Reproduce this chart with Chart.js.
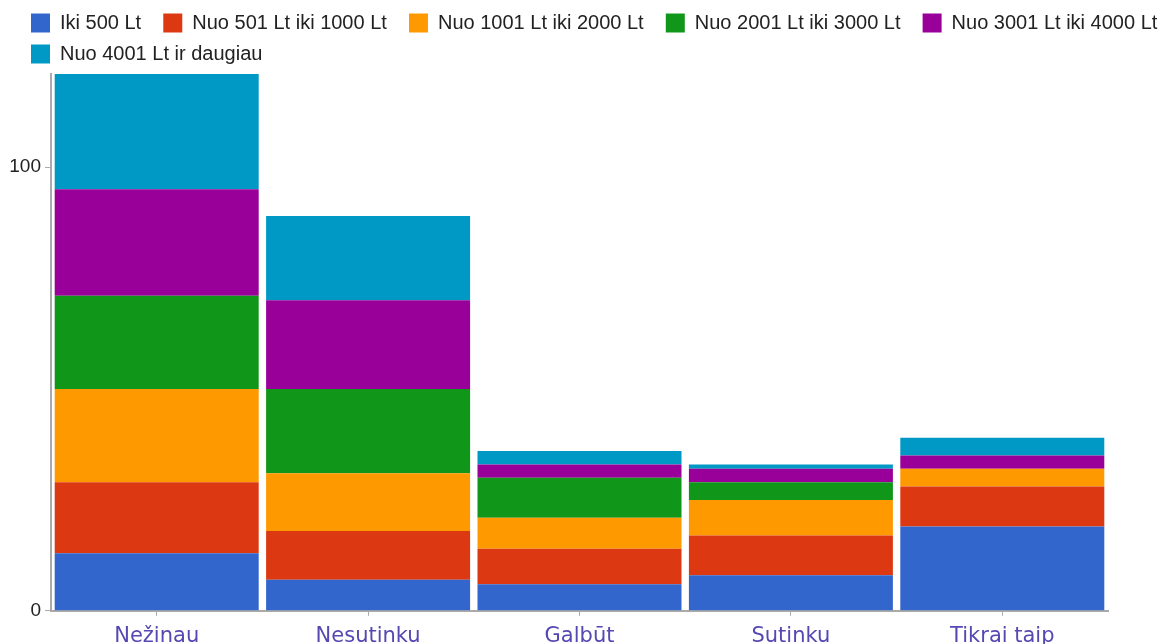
<!DOCTYPE html>
<html>
<head>
<meta charset="utf-8">
<script src="https://cdn.jsdelivr.net/npm/chart.js@4.4.0/dist/chart.umd.min.js"></script>
<style>
  html, body { margin: 0; padding: 0; background: #fff; }
  #wrap { width: 1160px; height: 644px; }
</style>
</head>
<body>
<div id="wrap"><canvas id="mycanvas"></canvas></div>
<script>
// atsakymai pagal pajamų grupes
var categories = ["Nežinau", "Nesutinku", "Galbūt", "Sutinku", "Tikrai taip"];

var iki500 = [13, 7, 6, 8, 19];
var nuo501 = [16, 11, 8, 9, 9];
var nuo1001 = [21, 13, 7, 8, 4];
var nuo2001 = [21, 19, 9, 4, 0];
var nuo3001 = [24, 20, 3, 3, 3];
var nuo4001 = [26, 19, 3, 1, 4];

var yTicks = [0, 100];

var chartdata = {
    labels: categories,
    datasets: [
        { label: "Iki 500 Lt", backgroundColor: "#3366cc", data: iki500 },
        { label: "Nuo 501 Lt iki 1000 Lt", backgroundColor: "#dc3912", data: nuo501 },
        { label: "Nuo 1001 Lt iki 2000 Lt", backgroundColor: "#ff9900", data: nuo1001 },
        { label: "Nuo 2001 Lt iki 3000 Lt", backgroundColor: "#109618", data: nuo2001 },
        { label: "Nuo 3001 Lt iki 4000 Lt", backgroundColor: "#990099", data: nuo3001 },
        { label: "Nuo 4001 Lt ir daugiau", backgroundColor: "#0099c6", data: nuo4001 }
    ]
};

// legend starts a bit to the right of the y axis labels
var legendShift = {
    id: 'legendShift',
    afterLayout: function(chart) {
        chart.legend.left += 11;
    }
};

var ctx = document.getElementById("mycanvas");

var BarGraph = new Chart(ctx, {
    type: 'bar',
    data: chartdata,
    plugins: [legendShift],
    options: {
        responsive: true,
        maintainAspectRatio: false,
        animation: false,
        datasets: {
            bar: { barPercentage: 1, categoryPercentage: 0.965, borderWidth: 0 }
        },
        // legend row is wider than the plot, so the right edge is pushed out
        layout: { padding: { left: 9, right: -40, top: 2, bottom: -13 } },
        plugins: {
            tooltip: { enabled: false },
            legend: {
                position: 'top',
                align: 'start',
                labels: {
                    boxWidth: 19,
                    boxHeight: 19,
                    padding: 11,
                    color: '#222',
                    font: { family: "'Liberation Sans', Arial, sans-serif", size: 20 },
                    generateLabels: function(chart) {
                        var items = Chart.defaults.plugins.legend.labels.generateLabels(chart);
                        items.forEach(function(item) { item.text = item.text + '  '; });
                        return items;
                    }
                }
            }
        },
        scales: {
            x: {
                stacked: true,
                grid: { drawOnChartArea: false, offset: false, tickLength: 5, color: '#aaa' },
                border: { color: '#aaa', width: 2 },
                ticks: {
                    padding: 8,
                    color: '#5548b2',
                    font: { family: "'DejaVu Sans', Verdana, sans-serif", size: 21 }
                }
            },
            y: {
                stacked: true,
                min: 0,
                max: 121,
                afterBuildTicks: function(scale) {
                    scale.ticks = yTicks.map(function(v) { return { value: v }; });
                },
                afterFit: function(scale) { scale.width = 42; },
                grid: { drawOnChartArea: false, tickLength: 6, color: '#aaa' },
                border: { color: '#aaa', width: 2 },
                ticks: {
                    padding: 4,
                    color: '#222',
                    font: { family: "'Liberation Sans', Arial, sans-serif", size: 19 }
                }
            },
            // empty axis that keeps space free on the right
            y2: {
                position: 'right',
                grid: { display: false },
                border: { display: false },
                ticks: { display: false },
                afterFit: function(scale) { scale.width = 92; }
            }
        }
    }
});
</script>
</body>
</html>
